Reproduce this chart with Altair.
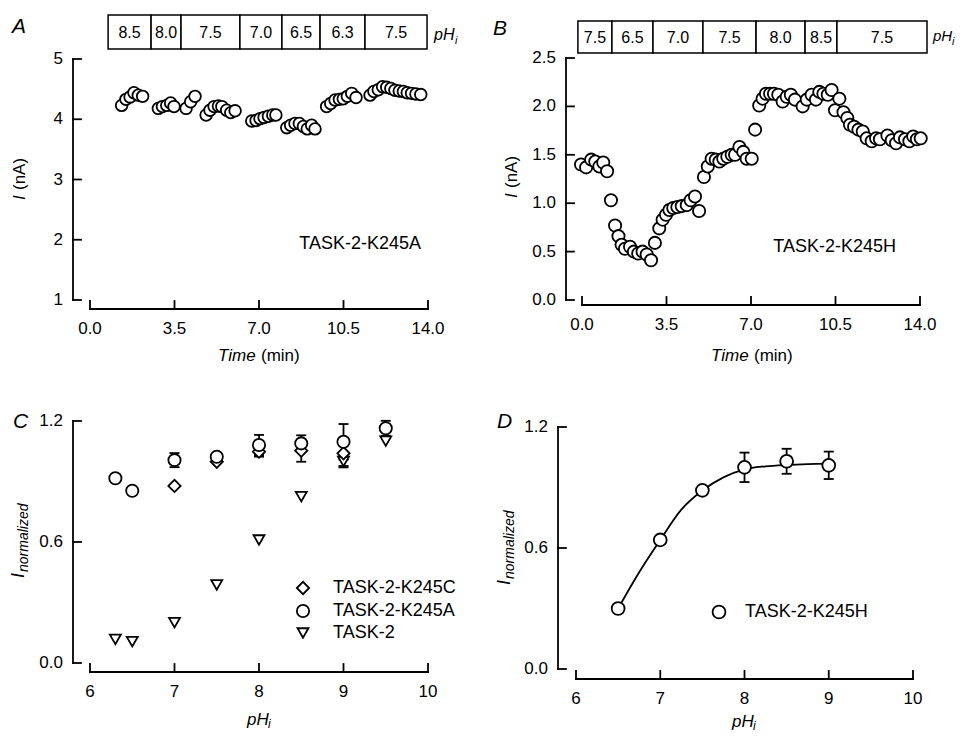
import altair as alt
import pandas as pd

# ---------------- data ----------------
# Panel A : TASK-2-K245A current vs time
A_time = [1.31, 1.49, 1.66, 1.82, 2.00, 2.18,
          2.83, 3.00, 3.18, 3.34, 3.48,
          3.98, 4.17, 4.35,
          4.81, 4.97, 5.14, 5.32, 5.46, 5.66, 5.83, 6.01,
          6.70, 6.88, 7.04, 7.21, 7.39, 7.57, 7.70,
          8.15, 8.31, 8.49, 8.67, 8.84, 9.00, 9.18, 9.32,
          9.80, 9.97, 10.15, 10.33, 10.49, 10.66, 10.84, 11.02,
          11.60, 11.76, 11.94, 12.12, 12.29, 12.46, 12.63, 12.81, 12.98, 13.14, 13.32, 13.50, 13.70]
A_current = [4.23, 4.33, 4.37, 4.44, 4.40, 4.38,
             4.18, 4.21, 4.23, 4.27, 4.21,
             4.18, 4.29, 4.38,
             4.07, 4.15, 4.21, 4.22, 4.21, 4.15, 4.11, 4.14,
             3.97, 3.98, 4.01, 4.03, 4.05, 4.07, 4.07,
             3.86, 3.90, 3.93, 3.93, 3.88, 3.84, 3.90, 3.84,
             4.21, 4.26, 4.32, 4.33, 4.34, 4.38, 4.43, 4.36,
             4.40, 4.46, 4.49, 4.54, 4.53, 4.51, 4.48, 4.47, 4.46, 4.44, 4.43, 4.42, 4.41]
A_ph_edges = [0.75, 2.53, 3.77, 6.21, 7.95, 9.53, 11.39, 13.96]
A_ph_labels = ["8.5", "8.0", "7.5", "7.0", "6.5", "6.3", "7.5"]

# Panel B : TASK-2-K245H current vs time
B_time = [-0.04, 0.17, 0.38, 0.55, 0.72, 0.88, 1.04,
          1.20, 1.37, 1.51, 1.64, 1.78, 1.99, 2.15, 2.33, 2.51, 2.68, 2.86,
          3.02, 3.20, 3.34, 3.48, 3.62, 3.78, 3.95, 4.13, 4.34, 4.50, 4.68, 4.85,
          5.05, 5.21, 5.37, 5.54, 5.69, 5.85, 6.02, 6.20, 6.34, 6.52, 6.68, 6.82, 7.03,
          7.17, 7.34, 7.48, 7.62, 7.79, 7.95, 8.13, 8.31, 8.48, 8.65, 8.82, 9.14, 9.31,
          9.51, 9.69, 9.83, 10.00, 10.18, 10.34, 10.48, 10.66, 10.83, 10.99, 11.10, 11.27,
          11.45, 11.63, 11.79, 12.00, 12.18, 12.34, 12.65, 12.83, 13.01, 13.17, 13.38,
          13.56, 13.72, 13.87, 14.03]
B_current = [1.40, 1.37, 1.45, 1.43, 1.38, 1.42, 1.33,
             1.03, 0.77, 0.66, 0.57, 0.53, 0.55, 0.50, 0.48, 0.50, 0.47, 0.41,
             0.59, 0.74, 0.83, 0.88, 0.93, 0.95, 0.96, 0.97, 0.98, 1.03, 1.07, 0.92,
             1.27, 1.38, 1.46, 1.45, 1.43, 1.46, 1.48, 1.50, 1.50, 1.58, 1.53, 1.46, 1.46,
             1.76, 2.01, 2.08, 2.13, 2.13, 2.13, 2.12, 2.05, 2.10, 2.12, 2.07, 2.00, 2.07,
             2.12, 2.07, 2.15, 2.13, 2.12, 2.17, 1.96, 2.08, 1.94, 1.88, 1.81, 1.79,
             1.76, 1.74, 1.67, 1.64, 1.67, 1.66, 1.70, 1.65, 1.62, 1.68, 1.66,
             1.64, 1.69, 1.66, 1.67]
B_ph_edges = [-0.17, 1.24, 2.94, 5.01, 7.21, 9.24, 10.56, 14.29]
B_ph_labels = ["7.5", "6.5", "7.0", "7.5", "8.0", "8.5", "7.5"]

time_ticks = [0, 3.5, 7, 10.5, 14]
A_yticks = [1, 2, 3, 4, 5]
B_yticks = [0, 0.5, 1.0, 1.5, 2.0, 2.5]
ph_ticks = [6, 7, 8, 9, 10]
norm_ticks = [0, 0.6, 1.2]

# Panel C : normalized current vs pHi
C_names = ["TASK-2-K245C", "TASK-2-K245A", "TASK-2"]
C_pH_K245C = [7.0, 7.5, 8.0, 8.5, 9.0]
C_I_K245C = [0.878, 0.998, 1.048, 1.053, 1.040]
C_err_K245C = [0.0, 0.0, 0.025, 0.055, 0.063]
C_pH_K245A = [6.3, 6.5, 7.0, 7.5, 8.0, 8.5, 9.0, 9.5]
C_I_K245A = [0.916, 0.854, 1.006, 1.023, 1.081, 1.089, 1.097, 1.164]
C_err_K245A = [0.0, 0.0, 0.035, 0.010, 0.050, 0.040, 0.088, 0.037]
C_pH_TASK2 = [6.3, 6.5, 7.0, 7.5, 8.0, 8.5, 9.0, 9.5]
C_I_TASK2 = [0.117, 0.106, 0.200, 0.387, 0.610, 0.825, 1.000, 1.100]
C_err_TASK2 = [0.0, 0.0, 0.0, 0.0, 0.0, 0.0, 0.03, 0.0]

# Panel D : TASK-2-K245H
D_name = "TASK-2-K245H"
D_pH = [6.5, 7.0, 7.5, 8.0, 8.5, 9.0]
D_I = [0.30, 0.64, 0.886, 1.00, 1.03, 1.01]
D_err = [0.0, 0.02, 0.0, 0.073, 0.062, 0.068]
D_fit_pH = [6.5, 6.75, 7.0, 7.25, 7.5, 7.75, 8.0, 8.25, 8.5, 8.75, 9.0]
D_fit_I = [0.30, 0.48, 0.64, 0.79, 0.885, 0.95, 0.99, 1.005, 1.012, 1.016, 1.018]

# ---------------- layout / style ----------------
W, H = 949, 724
FONT = "Liberation Sans"
LW = 1.8
TICK = 8
LABEL_SIZE = 17


def sc(domain, rng):
    return alt.Scale(domain=domain, range=rng, nice=False, zero=False)


def x_axis(ticks, fmt, scale, ypx):
    """Bottom axis built from the scale: domain line, inward ticks, labels."""
    labels = [format(v, fmt) for v in ticks]
    df = pd.DataFrame({"v": ticks, "lab": labels})
    ends = pd.DataFrame({"a": [ticks[0]], "b": [ticks[-1]]})
    dom = alt.Chart(ends).mark_rule(color="black", strokeWidth=LW, strokeCap="square").encode(
        x=alt.X("a:Q", scale=scale, axis=None), x2="b:Q", y=alt.value(ypx))
    tk = alt.Chart(df).mark_rule(color="black", strokeWidth=LW, strokeCap="square").encode(
        x=alt.X("v:Q", scale=scale, axis=None), y=alt.value(ypx), y2=alt.value(ypx - TICK))
    lab = alt.Chart(df).mark_text(fontSize=LABEL_SIZE, font=FONT, color="black",
                                  baseline="top", align="center").encode(
        x=alt.X("v:Q", scale=scale, axis=None), y=alt.value(ypx + 12), text="lab:N")
    return alt.layer(dom, tk, lab)


def y_axis(ticks, fmt, scale, xpx):
    """Left axis built from the scale: domain line, inward ticks, labels."""
    labels = [format(v, fmt) for v in ticks]
    df = pd.DataFrame({"v": ticks, "lab": labels})
    ends = pd.DataFrame({"a": [ticks[0]], "b": [ticks[-1]]})
    dom = alt.Chart(ends).mark_rule(color="black", strokeWidth=LW, strokeCap="square").encode(
        y=alt.Y("a:Q", scale=scale, axis=None), y2="b:Q", x=alt.value(xpx))
    tk = alt.Chart(df).mark_rule(color="black", strokeWidth=LW, strokeCap="square").encode(
        y=alt.Y("v:Q", scale=scale, axis=None), x=alt.value(xpx), x2=alt.value(xpx + TICK))
    lab = alt.Chart(df).mark_text(fontSize=LABEL_SIZE, font=FONT, color="black",
                                  baseline="middle", align="right").encode(
        y=alt.Y("v:Q", scale=scale, axis=None), x=alt.value(xpx - 10), text="lab:N")
    return alt.layer(dom, tk, lab)


def txt(s, x, y, size=17, style="normal", align="left", baseline="alphabetic", angle=0):
    kw = dict(text=s, fontSize=size, font=FONT, fontStyle=style, align=align,
              baseline=baseline, color="black")
    if angle:
        kw["angle"] = angle
    return alt.Chart(alt.Data(values=[{}])).mark_text(**kw).encode(x=alt.value(x), y=alt.value(y))


def sym(shape, x, y, size):
    return alt.Chart(alt.Data(values=[{}])).mark_point(
        shape=shape, filled=True, fill="white", stroke="black", strokeWidth=LW,
        size=size, opacity=1).encode(x=alt.value(x), y=alt.value(y))


def ph_boxes(edges, labels, scale, top, bottom):
    df = pd.DataFrame({"start": edges[:-1], "end": edges[1:], "label": labels})
    rect = alt.Chart(df).mark_rect(fill="white", stroke="black", strokeWidth=1.5).encode(
        x=alt.X("start:Q", scale=scale, axis=None), x2="end:Q",
        y=alt.value(top), y2=alt.value(bottom))
    lab = alt.Chart(df).transform_calculate(mid="(datum.start + datum.end) / 2").mark_text(
        fontSize=16, font=FONT, color="black", baseline="middle").encode(
        x=alt.X("mid:Q", scale=scale, axis=None), y=alt.value((top + bottom) / 2 + 1), text="label:N")
    return alt.layer(rect, lab)


def pts(df, xf, yf, xs, ys, shape="circle", size=140):
    return alt.Chart(df).mark_point(shape=shape, filled=True, fill="white", stroke="black",
                                    strokeWidth=LW, size=size, opacity=1).encode(
        x=alt.X(f"{xf}:Q", scale=xs, axis=None), y=alt.Y(f"{yf}:Q", scale=ys, axis=None))


def errbars(ph, val, err, xs, ys):
    rows = [(p, v - e, v + e) for p, v, e in zip(ph, val, err) if e > 0]
    df = pd.DataFrame(rows, columns=["pH", "lo", "hi"])
    base = alt.Chart(df)
    rule = base.mark_rule(color="black", strokeWidth=LW).encode(
        x=alt.X("pH:Q", scale=xs, axis=None), y=alt.Y("lo:Q", scale=ys, axis=None), y2="hi:Q")
    cap_hi = base.mark_tick(orient="horizontal", size=10, thickness=LW, color="black", opacity=1).encode(
        x=alt.X("pH:Q", scale=xs, axis=None), y=alt.Y("hi:Q", scale=ys, axis=None))
    cap_lo = base.mark_tick(orient="horizontal", size=10, thickness=LW, color="black", opacity=1).encode(
        x=alt.X("pH:Q", scale=xs, axis=None), y=alt.Y("lo:Q", scale=ys, axis=None))
    return alt.layer(rule, cap_hi, cap_lo)


# ---------------- panel A ----------------
xA = sc([0, 14], [82, 420]); yA = sc([1, 5], [292, 51])
panelA = alt.layer(
    ph_boxes(A_ph_edges, A_ph_labels, xA, 7, 41),
    x_axis(time_ticks, ".1f", xA, 301),
    y_axis(A_yticks, "d", yA, 65),
    pts(pd.DataFrame({"t": A_time, "I": A_current}), "t", "I", xA, yA, size=135),
)

# ---------------- panel B ----------------
xB = sc([0, 14], [574, 912]); yB = sc([0, 2.5], [292, 50])
panelB = alt.layer(
    ph_boxes(B_ph_edges, B_ph_labels, xB, 13, 45),
    x_axis(time_ticks, ".1f", xB, 297),
    y_axis(B_yticks, ".1f", yB, 558),
    pts(pd.DataFrame({"t": B_time, "I": B_current}), "t", "I", xB, yB, size=150),
)

# ---------------- panel C ----------------
xC = sc([6, 10], [82, 420]); yC = sc([0, 1.2], [655, 413])
panelC = alt.layer(
    x_axis(ph_ticks, "d", xC, 664),
    y_axis(norm_ticks, ".1f", yC, 65),
    errbars(C_pH_K245C, C_I_K245C, C_err_K245C, xC, yC),
    errbars(C_pH_K245A, C_I_K245A, C_err_K245A, xC, yC),
    errbars(C_pH_TASK2, C_I_TASK2, C_err_TASK2, xC, yC),
    pts(pd.DataFrame({"pH": C_pH_TASK2, "I": C_I_TASK2}), "pH", "I", xC, yC, shape="triangle-down", size=120),
    pts(pd.DataFrame({"pH": C_pH_K245C, "I": C_I_K245C}), "pH", "I", xC, yC, shape="diamond", size=150),
    pts(pd.DataFrame({"pH": C_pH_K245A, "I": C_I_K245A}), "pH", "I", xC, yC, shape="circle", size=150),
)

# ---------------- panel D ----------------
xD = sc([6, 10], [568, 905]); yD = sc([0, 1.2], [661, 419])
fitD = alt.Chart(pd.DataFrame({"pH": D_fit_pH, "I": D_fit_I})).mark_line(
    color="black", strokeWidth=LW, interpolate="monotone").encode(
    x=alt.X("pH:Q", scale=xD, axis=None), y=alt.Y("I:Q", scale=yD, axis=None))
panelD = alt.layer(
    x_axis(ph_ticks, "d", xD, 671),
    y_axis(norm_ticks, ".1f", yD, 550),
    fitD,
    errbars(D_pH, D_I, D_err, xD, yD),
    pts(pd.DataFrame({"pH": D_pH, "I": D_I}), "pH", "I", xD, yD, size=165),
)

# ---------------- text & legends ----------------
texts = [
    # panel letters
    txt("A", 4, 25, size=21, style="italic"),
    txt("B", 485, 27, size=21, style="italic"),
    txt("C", 5, 420, size=21, style="italic"),
    txt("D", 489, 420, size=21, style="italic"),
    # pHi labels of the bars
    txt("pH", 426, 32, size=16, style="italic"), txt("i", 447, 36, size=11, style="italic"),
    txt("pH", 925, 33, size=15, style="italic"), txt("i", 944, 37, size=11, style="italic"),
    # annotations
    txt("TASK-2-K245A", 413, 236, size=18, align="right", baseline="middle"),
    txt("TASK-2-K245H", 888, 239, size=18, align="right", baseline="middle"),
    # x titles
    txt("Time", 210, 353, size=17, style="italic"), txt("(min)", 253, 353, size=17),
    txt("Time", 703, 353, size=17, style="italic"), txt("(min)", 746, 353, size=17),
    txt("pH", 239, 717, size=17, style="italic"), txt("i", 260, 720, size=12, style="italic"),
    txt("pH", 724, 719, size=17, style="italic"), txt("i", 745, 722, size=12, style="italic"),
    # y titles
    txt("I", 12, 192, size=17, style="italic", baseline="middle", angle=270),
    txt("(nA)", 12, 182, size=17, baseline="middle", angle=270),
    txt("I", 504, 190, size=17, style="italic", baseline="middle", angle=270),
    txt("(nA)", 504, 180, size=17, baseline="middle", angle=270),
    txt("I", 16, 570, size=18, style="italic", angle=270),
    txt("normalized", 20, 564, size=14, style="italic", angle=270),
    txt("I", 502, 577, size=18, style="italic", angle=270),
    txt("normalized", 506, 571, size=14, style="italic", angle=270),
    # legend C
    sym("diamond", 295, 580, 150), txt(C_names[0], 325, 580, size=18, baseline="middle"),
    sym("circle", 295, 603, 150), txt(C_names[1], 325, 603, size=18, baseline="middle"),
    sym("triangle-down", 295, 625, 120), txt(C_names[2], 325, 625, size=18, baseline="middle"),
    # legend D
    sym("circle", 711, 604, 165), txt(D_name, 737, 604, size=18, baseline="middle"),
]

chart = alt.layer(panelA, panelB, panelC, panelD, *texts).resolve_scale(
    x="independent", y="independent"
).properties(
    width=W, height=H, padding=0, autosize=alt.AutoSizeParams(type="none"),
    background="white"
).configure_view(stroke=None)

chart.save("out.html", embed_options={"renderer": "svg", "actions": False})
